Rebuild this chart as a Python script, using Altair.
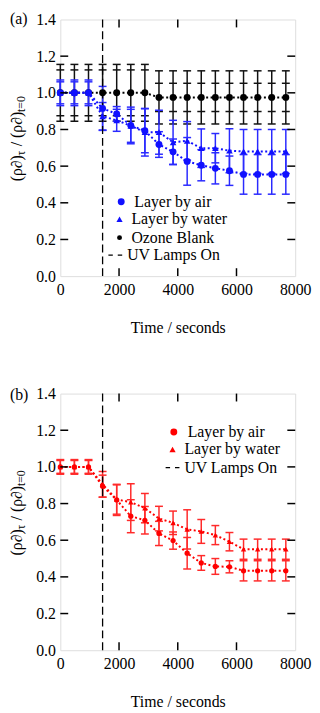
import altair as alt
import pandas as pd

FONT = "'Liberation Serif', 'Times New Roman', Times, serif"

# ---------------- data ----------------
time_s = [0, 480, 960, 1440, 1920, 2400, 2880, 3360, 3840, 4320, 4800, 5280, 5760, 6240, 6720, 7200, 7680]

# panel (a)
air_a = [1.0, 1.0, 1.0, 0.915, 0.885, 0.822, 0.793, 0.718, 0.678, 0.626, 0.605, 0.588, 0.575, 0.555, 0.555, 0.555, 0.555]
air_a_err = [0.07, 0.07, 0.07, 0.12, 0.04, 0.10, 0.12, 0.07, 0.07, 0.13, 0.085, 0.085, 0.08, 0.108, 0.108, 0.108, 0.108]
water_a = [1.0, 1.0, 1.0, 0.872, 0.85, 0.82, 0.785, 0.785, 0.73, 0.738, 0.698, 0.698, 0.684, 0.68, 0.68, 0.68, 0.68]
water_a_err = [0.06, 0.06, 0.06, 0.075, 0.06, 0.09, 0.13, 0.12, 0.12, 0.105, 0.105, 0.08, 0.12, 0.12, 0.12, 0.12, 0.12]
blank_a = [1.0, 1.0, 1.0, 1.0, 1.0, 1.0, 1.0, 0.975, 0.975, 0.975, 0.975, 0.975, 0.975, 0.975, 0.975, 0.975, 0.975]
blank_a_err = [0.155, 0.155, 0.155, 0.155, 0.155, 0.155, 0.155, 0.145, 0.145, 0.145, 0.145, 0.145, 0.145, 0.145, 0.145, 0.145, 0.145]
blank_a_err_inner = [0.125, 0.125, 0.125, 0.125, 0.125, 0.125, 0.125, 0.077, 0.077, 0.077, 0.077, 0.077, 0.077, 0.077, 0.077, 0.077, 0.077]

# panel (b)
air_b = [1.0, 1.0, 1.0, 0.895, 0.82, 0.731, 0.709, 0.637, 0.598, 0.529, 0.476, 0.457, 0.455, 0.433, 0.433, 0.433, 0.433]
air_b_err = [0.04, 0.04, 0.04, 0.06, 0.085, 0.09, 0.075, 0.066, 0.047, 0.086, 0.04, 0.043, 0.033, 0.055, 0.055, 0.055, 0.055]
water_b = [1.0, 1.0, 1.0, 0.905, 0.822, 0.808, 0.775, 0.718, 0.695, 0.659, 0.648, 0.628, 0.592, 0.551, 0.551, 0.551, 0.551]
water_b_err = [0.035, 0.035, 0.035, 0.07, 0.08, 0.10, 0.08, 0.067, 0.064, 0.107, 0.065, 0.052, 0.05, 0.055, 0.055, 0.055, 0.055]

uv_time = [1440]
x_ticks = [0, 2000, 4000, 6000, 8000]
y_ticks = [0.0, 0.2, 0.4, 0.6, 0.8, 1.0, 1.2, 1.4]
x_title = "Time / seconds"
y_title_parts = ["(ρ∂)", "τ", "/ (ρ∂)", "t=0"]
legend_a = ["Layer  by air", "Layer by water", "Ozone Blank", "UV Lamps On"]
legend_b = ["Layer by air", "Layer by water", "UV Lamps On"]
panel_tags = ["(a)", "(b)"]

W, H = 238, 260
BLUE, BLUE_E = "#1010ff", "#2a2aff"
RED, RED_E = "#ff0000", "#ff2a2a"

xs = alt.Scale(domain=[0, 8000], nice=False, zero=False)
ys = alt.Scale(domain=[0, 1.4], nice=False, zero=True)
xaxis = alt.Axis(values=x_ticks, format="d", title=x_title, ticks=False, domain=False, grid=False,
                 labelFlush=False, labelFont=FONT, labelFontSize=16, labelColor="black", labelPadding=6,
                 titleFont=FONT, titleFontSize=16, titleFontWeight="normal", titleColor="black", titlePadding=22)
yaxis = alt.Axis(values=y_ticks, format=".1f", title=None, ticks=False, domain=False, grid=False,
                 labelFont=FONT, labelFontSize=16, labelColor="black", labelPadding=5)


def X(field="t"):
    return alt.X(f"{field}:Q", scale=xs, axis=xaxis)


def Y(field):
    return alt.Y(f"{field}:Q", scale=ys, axis=yaxis)


def frame(vals, errs):
    df = pd.DataFrame({"t": time_s, "v": vals, "e": errs})
    df["lo"] = df["v"] - df["e"]
    df["hi"] = df["v"] + df["e"]
    return df


def errorbars(df, color, cap=4, width=1.5):
    base = alt.Chart(df)
    bar = base.mark_rule(color=color, strokeWidth=width).encode(x=X(), y=Y("lo"), y2="hi")
    top = base.mark_rule(color=color, strokeWidth=width, xOffset=-cap, x2Offset=cap).encode(
        x=X(), x2="t", y=Y("hi"))
    bot = base.mark_rule(color=color, strokeWidth=width, xOffset=-cap, x2Offset=cap).encode(
        x=X(), x2="t", y=Y("lo"))
    return [bar, top, bot]


def caps_only(df, color, cap=4, width=1.5):
    base = alt.Chart(df)
    top = base.mark_rule(color=color, strokeWidth=width, xOffset=-cap, x2Offset=cap).encode(
        x=X(), x2="t", y=Y("hi"))
    bot = base.mark_rule(color=color, strokeWidth=width, xOffset=-cap, x2Offset=cap).encode(
        x=X(), x2="t", y=Y("lo"))
    return [top, bot]


def line(df, color):
    return alt.Chart(df).mark_line(color=color, strokeDash=[2, 2.5], strokeWidth=2).encode(x=X(), y=Y("v"))


def points(df, color, shape, size):
    return alt.Chart(df).mark_point(color=color, fill=color, filled=True, opacity=1, shape=shape,
                                    size=size).encode(x=X(), y=Y("v"))


def frame_ticks():
    xt = pd.DataFrame({"t": x_ticks[1:-1]})
    yt = pd.DataFrame({"v": y_ticks[1:-1]})
    L = 8
    layers = [
        alt.Chart(xt).mark_rule(color="black", strokeWidth=1.5).encode(x=X(), y=alt.value(H), y2=alt.value(H - L)),
        alt.Chart(xt).mark_rule(color="black", strokeWidth=1.5).encode(x=X(), y=alt.value(0), y2=alt.value(L)),
        alt.Chart(yt).mark_rule(color="black", strokeWidth=1.5).encode(y=Y("v"), x=alt.value(0), x2=alt.value(L)),
        alt.Chart(yt).mark_rule(color="black", strokeWidth=1.5).encode(y=Y("v"), x=alt.value(W), x2=alt.value(W - L)),
    ]
    return layers


def uv_line():
    return alt.Chart(pd.DataFrame({"t": uv_time})).mark_rule(
        color="black", strokeWidth=1.3, strokeDash=[8, 4]).encode(x=X(), y=alt.value(0), y2=alt.value(H))


one = pd.DataFrame({"a": [0]})


def txt(s, x, y, size=16, angle=0, align="left", baseline="middle"):
    return alt.Chart(one).mark_text(text=s, font=FONT, fontSize=size, color="black", angle=angle,
                                    align=align, baseline=baseline).encode(x=alt.value(x), y=alt.value(y))


def y_title():
    main, sub = 16, 12
    # advance of each piece (measured em widths of Liberation Serif) + gaps
    adv = [1.64 * main, 0.44 * sub + 0.25 * main, 2.17 * main, 1.32 * sub]
    pos = 164
    bx = -39
    layers = []
    for i, s in enumerate(y_title_parts):
        is_sub = i % 2 == 1
        layers.append(txt(s, bx + (3.5 if is_sub else 0), pos, size=sub if is_sub else main, angle=270,
                          align="left", baseline="alphabetic"))
        pos -= adv[i]
    return layers


def leg_point(x, y, color, shape, size):
    return alt.Chart(one).mark_point(color=color, fill=color, filled=True, opacity=1, shape=shape,
                                     size=size).encode(x=alt.value(x), y=alt.value(y))


def leg_dash(x1, x2, y):
    return alt.Chart(one).mark_rule(color="black", strokeWidth=1.3, strokeDash=[4.5, 5]).encode(
        x=alt.value(x1), x2=alt.value(x2), y=alt.value(y))


# ---------------- panel (a) ----------------
dfa_air = frame(air_a, air_a_err)
dfa_wat = frame(water_a, water_a_err)
dfa_blk = frame(blank_a, blank_a_err)
dfa_blk_in = frame(blank_a, blank_a_err_inner)

layers_a = []
layers_a += errorbars(dfa_blk, "#111111")
layers_a += caps_only(dfa_blk_in, "#111111")
layers_a += errorbars(dfa_wat, BLUE_E)
layers_a += errorbars(dfa_air, BLUE_E)
layers_a += [line(dfa_blk, "black"), line(dfa_wat, BLUE), line(dfa_air, BLUE)]
layers_a += [uv_line()]
layers_a += [points(dfa_blk, "black", "circle", 49), points(dfa_wat, BLUE, "triangle-up", 45),
             points(dfa_air, BLUE, "circle", 49)]
layers_a += frame_ticks()
layers_a += [leg_point(61.7, 184.7, BLUE, "circle", 49), txt(legend_a[0], 75, 184.7),
             leg_point(60, 202.3, BLUE, "triangle-up", 40), txt(legend_a[1], 72, 202.3),
             leg_point(60, 221, "black", "circle", 25), txt(legend_a[2], 72, 221),
             leg_dash(48.7, 62.7, 238.7), txt(legend_a[3], 67.7, 238.7)]
layers_a += y_title()
layers_a += [txt(panel_tags[0], -51, 0)]

panel_a = alt.layer(*layers_a).properties(width=W, height=H)

# ---------------- panel (b) ----------------
dfb_air = frame(air_b, air_b_err)
dfb_wat = frame(water_b, water_b_err)

layers_b = []
layers_b += errorbars(dfb_wat, RED_E)
layers_b += errorbars(dfb_air, RED_E)
layers_b += [line(dfb_wat, RED), line(dfb_air, RED)]
layers_b += [uv_line()]
layers_b += [points(dfb_wat, RED, "triangle-up", 30), points(dfb_air, RED, "circle", 28)]
layers_b += frame_ticks()
layers_b += [leg_point(115, 39, RED, "circle", 49), txt(legend_b[0], 129, 39),
             leg_point(113.7, 56.7, RED, "triangle-up", 40), txt(legend_b[1], 125.7, 56.7),
             leg_dash(106.7, 120.7, 75), txt(legend_b[2], 125.7, 75)]
layers_b += y_title()
layers_b += [txt(panel_tags[1], -51, 1)]

panel_b = alt.layer(*layers_b).properties(width=W, height=H)

chart = alt.vconcat(panel_a, panel_b, spacing=49).properties(
    padding={"left": 0, "top": -2, "right": 0, "bottom": 0}
).configure_view(stroke="black", strokeWidth=1.5).configure(background="white")

chart.save("out.html", embed_options={"renderer": "svg", "actions": False})
